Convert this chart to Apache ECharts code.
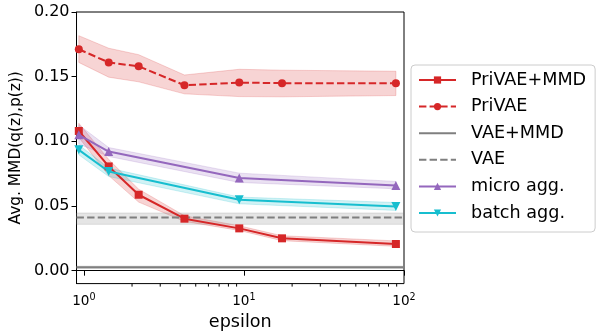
<!DOCTYPE html>
<html>
<head>
<meta charset="utf-8">
<script src="https://cdn.jsdelivr.net/npm/echarts@6/dist/echarts.min.js"></script>
<style>
html, body { margin: 0; padding: 0; background: #fff; }
#chart { width: 602px; height: 336px; }
</style>
</head>
<body>
<div id="chart"></div>
<script>
// epsilon values (log x axis)
const eps = [0.93, 1.43, 2.2, 4.25, 9.35, 17.3, 89];
const epsAgg = [0.93, 1.43, 9.35, 89];
const epsFull = [0.9, 100];

const privaeMmd = [0.108, 0.0806, 0.0587, 0.0402, 0.0327, 0.0250, 0.0206];
const privaeMmdLo = [0.103, 0.0735, 0.0530, 0.0381, 0.0311, 0.0232, 0.0188];
const privaeMmdHi = [0.114, 0.0860, 0.0630, 0.0425, 0.0347, 0.0270, 0.0230];

const privae = [0.1712, 0.161, 0.158, 0.1434, 0.1454, 0.145, 0.145];
const privaeLo = [0.161, 0.1496, 0.146, 0.1367, 0.1346, 0.1344, 0.1354];
const privaeHi = [0.1817, 0.172, 0.167, 0.1513, 0.1557, 0.155, 0.1542];

const micro = [0.105, 0.0921, 0.0716, 0.0659];
const microLo = [0.098, 0.0883, 0.0682, 0.0633];
const microHi = [0.1127, 0.0952, 0.0754, 0.069];

const batch = [0.0934, 0.0767, 0.0548, 0.0497];
const batchLo = [0.0896, 0.0728, 0.0517, 0.0466];
const batchHi = [0.0973, 0.0793, 0.0569, 0.0527];

const vae = [0.0412, 0.0412];
const vaeLo = [0.0358, 0.0358];
const vaeHi = [0.0446, 0.0446];

const vaeMmd = [0.0026, 0.0026];
const vaeMmdLo = [0.0017, 0.0017];
const vaeMmdHi = [0.0035, 0.0035];

const yTicks = [0, 0.05, 0.1, 0.15, 0.2];
const xTicks = [1, 10, 100];
const xMinorTicks = [2, 3, 4, 5, 6, 7, 8, 9, 20, 30, 40, 50, 60, 70, 80, 90];

const RED = '#d62728', PURPLE = '#9467bd', CYAN = '#17becf', GRAY = '#7f7f7f';
const FONT = 'DejaVu Sans';
const DASH = [7.4, 3.2];

function zip(xs, ys) { return xs.map((x, i) => [x, ys[i]]); }

// shaded band between lo and hi, drawn once as a polygon
function band(xs, lo, hi, color) {
    return {
        type: 'custom',
        silent: true,
        z: 1,
        clip: true,
        data: xs.map((x, i) => [x, lo[i], hi[i]]),
        renderItem(params, api) {
            if (params.dataIndexInside !== 0) return;
            const pts = [];
            xs.forEach((x, i) => pts.push(api.coord([x, hi[i]])));
            for (let i = xs.length - 1; i >= 0; i--) pts.push(api.coord([xs[i], lo[i]]));
            return {
                type: 'polygon',
                shape: { points: pts },
                style: { fill: color, stroke: color, lineWidth: 1 }
            };
        }
    };
}

function line(name, xs, ys, color, symbol, size, dashed, rotate) {
    return {
        name: name,
        type: 'line',
        z: 3,
        data: zip(xs, ys),
        symbol: symbol,
        symbolSize: size,
        symbolRotate: rotate || 0,
        showSymbol: symbol !== 'none',
        color: color,
        lineStyle: { color: color, width: 2, type: dashed ? DASH : 'solid' },
        itemStyle: { color: color },
        emphasis: { disabled: true }
    };
}

const chart = echarts.init(document.getElementById('chart'));
chart.setOption({
    animation: false,
    backgroundColor: '#fff',
    grid: { left: 69, right: 198, top: 12, bottom: 52, containLabel: false,
            show: true, borderColor: '#000', borderWidth: 1 },
    xAxis: {
        type: 'log',
        logBase: 10,
        min: 0.9,
        max: 100,
        name: 'epsilon',
        nameLocation: 'middle',
        nameGap: 28,
        nameTextStyle: { fontFamily: FONT, fontSize: 17.6, color: '#000' },
        axisLine: { lineStyle: { color: '#000', width: 1 } },
        axisTick: { customValues: xTicks, length: 5, lineStyle: { color: '#000' } },
        axisLabel: {
            customValues: xTicks,
            margin: 9,
            formatter: v => '{b|10}{s|' + Math.round(Math.log10(v)) + '}',
            rich: {
                b: { fontFamily: FONT, fontSize: 13.6, color: '#000' },
                s: { fontFamily: FONT, fontSize: 9.6, color: '#000', padding: [0, 0, 7, 0] }
            }
        },
        splitLine: { show: false }
    },
    yAxis: {
        type: 'value',
        min: -0.01,
        max: 0.2,
        name: 'Avg. MMD(q(z),p(z))',
        nameLocation: 'middle',
        nameRotate: 90,
        nameGap: 46,
        nameTextStyle: { fontFamily: FONT, fontSize: 15.4, color: '#000' },
        axisLine: { show: true, lineStyle: { color: '#000', width: 1 } },
        axisTick: { show: true, customValues: yTicks, length: 5, lineStyle: { color: '#000' } },
        axisLabel: {
            customValues: yTicks,
            margin: 7,
            formatter: v => v.toFixed(2),
            fontFamily: FONT, fontSize: 16, color: '#000'
        },
        splitLine: { show: false }
    },
    legend: {
        orient: 'vertical',
        left: 411,
        top: 65,
        padding: [5, 9, 9, 7],
        itemWidth: 37,
        itemHeight: 9,
        itemGap: 6.6,
        borderColor: '#ccc',
        borderWidth: 1,
        borderRadius: 4,
        backgroundColor: 'rgba(255,255,255,0.8)',
        textStyle: { fontFamily: FONT, fontSize: 17.6, color: '#000', lineHeight: 20, padding: [0, 0, 0, 10] },
        data: [
            'PriVAE+MMD',
            'PriVAE',
            { name: 'VAE+MMD', itemStyle: { opacity: 0 } },
            { name: 'VAE', itemStyle: { opacity: 0 } },
            'micro agg.',
            'batch agg.'
        ]
    },
    series: [
        // minor ticks of the log axis
        {
            type: 'custom',
            silent: true,
            clip: false,
            data: xMinorTicks.map(v => [v, -0.01]),
            renderItem(params, api) {
                const p = api.coord([api.value(0), api.value(1)]);
                return { type: 'line', shape: { x1: p[0], y1: p[1], x2: p[0], y2: p[1] + 3 },
                         style: { stroke: '#000', lineWidth: 1 } };
            }
        },
        band(eps, privaeMmdLo, privaeMmdHi, 'rgba(214,39,40,0.2)'),
        band(eps, privaeLo, privaeHi, 'rgba(214,39,40,0.2)'),
        band(epsFull, vaeMmdLo, vaeMmdHi, 'rgba(127,127,127,0.2)'),
        band(epsFull, vaeLo, vaeHi, 'rgba(127,127,127,0.2)'),
        band(epsAgg, microLo, microHi, 'rgba(148,103,189,0.2)'),
        band(epsAgg, batchLo, batchHi, 'rgba(23,190,207,0.2)'),
        line('PriVAE+MMD', eps, privaeMmd, RED, 'rect', 8, false),
        line('PriVAE', eps, privae, RED, 'circle', 8, true),
        line('VAE+MMD', epsFull, vaeMmd, GRAY, 'none', 0, false),
        line('VAE', epsFull, vae, GRAY, 'none', 0, true),
        line('micro agg.', epsAgg, micro, PURPLE, 'triangle', 9, false),
        line('batch agg.', epsAgg, batch, CYAN, 'triangle', 9, false, 180)
    ]
});
</script>
</body>
</html>
